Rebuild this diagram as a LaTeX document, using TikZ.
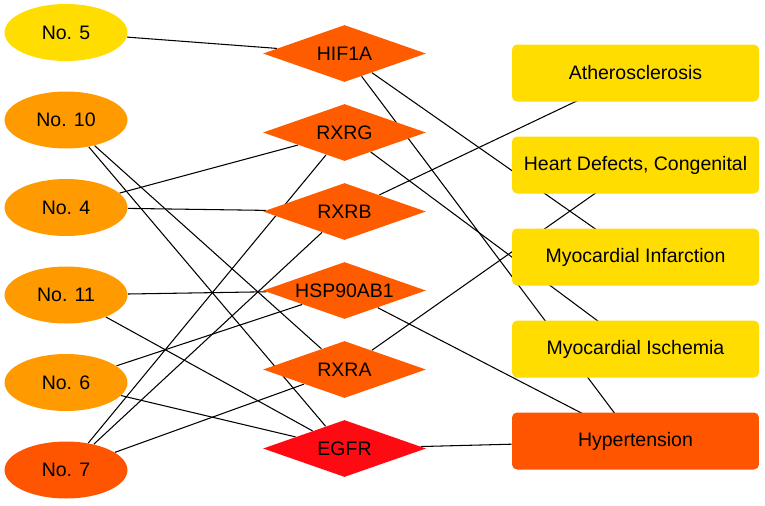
\documentclass[tikz,border=0pt]{standalone}
\usepackage{fontspec}
\setmainfont{Liberation Sans}
\usetikzlibrary{shapes.geometric,backgrounds}

\definecolor{cyel}{HTML}{FFDD00}
\definecolor{corange}{HTML}{FF9A00}
\definecolor{cdeep}{HTML}{FF5500}
\definecolor{ctarget}{HTML}{FF5C00}
\definecolor{cred}{HTML}{FF0A12}

\begin{document}
\begin{tikzpicture}[x=0.02cm, y=-0.02cm, font=\fontsize{11.1}{13}\selectfont,
  compound/.style={ellipse, fill=#1, minimum width=2.46cm, minimum height=1.14cm, inner sep=0pt},
  target/.style={diamond, fill=#1, aspect=2.86, minimum width=3.26cm, minimum height=1.14cm, inner sep=0pt},
  disease/.style={rectangle, rounded corners=0.1cm, fill=#1, minimum width=4.94cm, minimum height=1.14cm, inner sep=0pt},
  link/.style={line width=0.6pt, black}]
  \useasboundingbox (0,0) rectangle (765,505);
  % compounds
  \node[compound=cyel]    (n5)  at (66,32.5)  {No. 5};
  \node[compound=corange] (n10) at (66,120)   {No. 10};
  \node[compound=corange] (n4)  at (66,207.5) {No. 4};
  \node[compound=corange] (n11) at (66,295)   {No. 11};
  \node[compound=corange] (n6)  at (66,382.5) {No. 6};
  \node[compound=cdeep]   (n7)  at (66,470)   {No. 7};
  % targets
  \node[target=ctarget] (hif1a) at (344.5,53.5)  {HIF1A};
  \node[target=ctarget] (rxrg)  at (344.5,132.5) {RXRG};
  \node[target=ctarget] (rxrb)  at (344.5,211.5) {RXRB};
  \node[target=ctarget] (hsp)   at (344.5,290.5) {HSP90AB1};
  \node[target=ctarget] (rxra)  at (344.5,369.5) {RXRA};
  \node[target=cred]    (egfr)  at (344.5,448.5) {EGFR};
  % diseases
  \node[disease=cyel]  (athero)   at (635.5,73)  {Atherosclerosis};
  \node[disease=cyel]  (heart)    at (635.5,165) {Heart Defects, Congenital};
  \node[disease=cyel]  (infarct)  at (635.5,257) {Myocardial Infarction};
  \node[disease=cyel]  (ischemia) at (635.5,349) {Myocardial Ischemia};
  \node[disease=cdeep] (hyper)    at (635.5,441) {Hypertension};
  \begin{scope}[on background layer]
    % compound -- target
    \draw[link] (n5) -- (hif1a);
    \draw[link] (n10) -- (rxra);
    \draw[link] (n10) -- (egfr);
    \draw[link] (n4) -- (rxrg);
    \draw[link] (n4) -- (rxrb);
    \draw[link] (n11) -- (hsp);
    \draw[link] (n11) -- (egfr);
    \draw[link] (n6) -- (hsp);
    \draw[link] (n6) -- (egfr);
    \draw[link] (n7) -- (rxrg);
    \draw[link] (n7) -- (rxrb);
    \draw[link] (n7) -- (rxra);
    % target -- disease
    \draw[link] (hif1a) -- (infarct.center);
    \draw[link] (hif1a) -- (hyper.center);
    \draw[link] (rxrg) -- (ischemia.center);
    \draw[link] (rxrb) -- (athero.center);
    \draw[link] (hsp) -- (hyper.center);
    \draw[link] (rxra) -- (heart.center);
    \draw[link] (egfr) -- (hyper);
  \end{scope}
\end{tikzpicture}
\end{document}
